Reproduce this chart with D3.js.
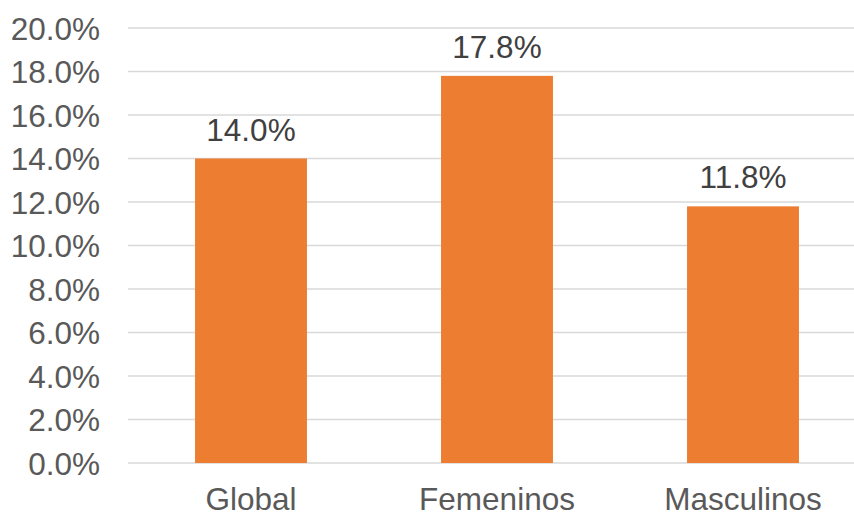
<!DOCTYPE html>
<html><head><meta charset="utf-8">
<script src="https://cdn.jsdelivr.net/npm/d3@7"></script>
<style>html,body{margin:0;padding:0;background:#fff;}</style>
</head><body>
<svg id="c" width="854" height="517"></svg>
<script>
const categories = ["Global", "Femeninos", "Masculinos"];
const values = [14.0, 17.8, 11.8];
const yTicks = [0, 2, 4, 6, 8, 10, 12, 14, 16, 18, 20];

const svg = d3.select("#c");
const font = "'Liberation Sans', Arial, sans-serif";
const fs = 31.5;
const x = d3.scaleBand().domain(categories).range([128, 866]).paddingInner(0.545).paddingOuter(0.2725);
const y = d3.scaleLinear().domain([0, 20]).range([463, 28]);

svg.append("g").selectAll("line").data(yTicks).join("line")
  .attr("x1", 128).attr("x2", 854)
  .attr("y1", d => y(d)).attr("y2", d => y(d))
  .attr("stroke", "#d9d9d9").attr("stroke-width", 1.5);

const yAxis = svg.append("g").attr("transform", "translate(100,0)")
  .call(d3.axisLeft(y).tickValues(yTicks).tickSize(0).tickPadding(0).tickFormat(d => d.toFixed(1) + "%"));
yAxis.select(".domain").remove();
yAxis.selectAll("text").attr("font-family", font).attr("font-size", fs).attr("fill", "#595959").attr("dy", "0.35em");

svg.append("g").selectAll("rect").data(values).join("rect")
  .attr("x", (d, i) => x(categories[i])).attr("width", x.bandwidth())
  .attr("y", d => y(d)).attr("height", d => y(0) - y(d))
  .attr("fill", "#ED7D31");

svg.append("g").selectAll("text").data(values).join("text")
  .attr("x", (d, i) => x(categories[i]) + x.bandwidth() / 2)
  .attr("y", d => y(d) - 18)
  .attr("text-anchor", "middle").attr("font-family", font).attr("font-size", fs).attr("fill", "#404040")
  .text(d => d.toFixed(1) + "%");

const xAxis = svg.append("g").attr("transform", "translate(0,463)")
  .call(d3.axisBottom(x).tickSize(0).tickPadding(0));
xAxis.select(".domain").remove();
xAxis.selectAll("text").attr("font-family", font).attr("font-size", fs).attr("fill", "#595959").attr("dy", "1.5em");
</script>
</body></html>
